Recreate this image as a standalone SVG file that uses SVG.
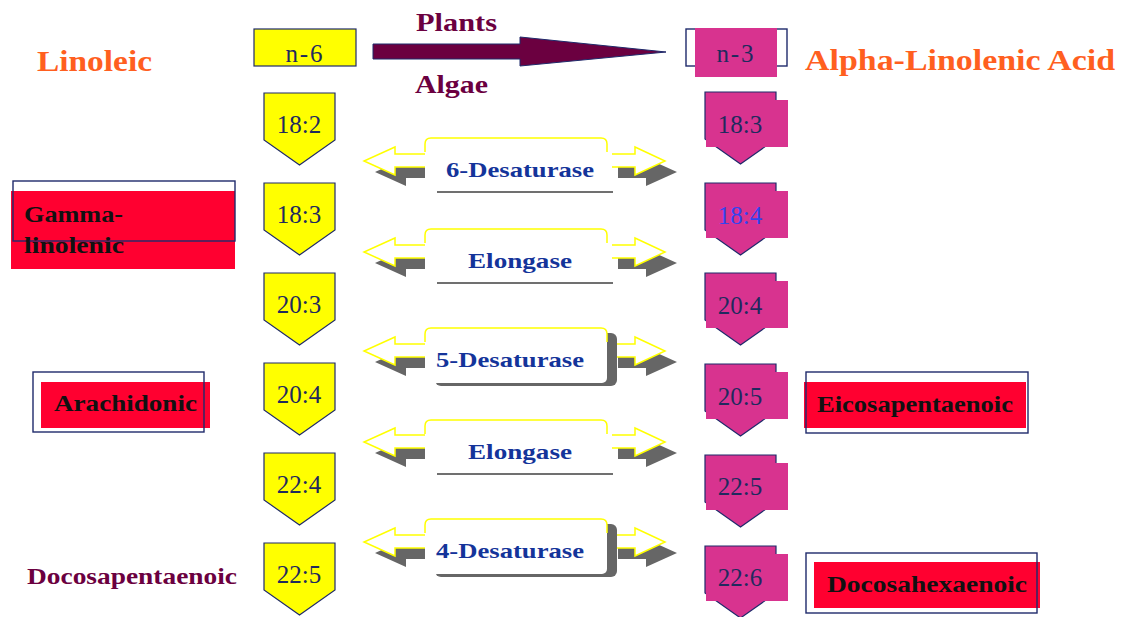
<svg xmlns="http://www.w3.org/2000/svg" width="1126" height="617" viewBox="0 0 1126 617">
  <style>
    text { font-family: "Liberation Serif", "Times New Roman", serif; }
    .title { font-size: 29px; font-weight: bold; fill: #ff5f1f; }
    .maroon { font-weight: bold; fill: #6b0040; }
    .num { font-size: 25px; fill: #1f2a5e; text-anchor: middle; }
    .enz { font-size: 22px; font-weight: bold; fill: #14349a; }
    .acid { font-size: 24px; font-weight: bold; fill: #111; }
    .yel { fill: #ffff00; stroke: #1f2a6b; stroke-width: 1.2; }
    .mag { fill: #d8338f; stroke: #1f2a6b; stroke-width: 1.2; }
    .magfill { fill: #d8338f; }
    .red { fill: #ff0030; }
    .frame { fill: none; stroke: #1f2a6b; stroke-width: 1.4; }
    .shadow { fill: #666666; }
    .hollow { fill: #ffffff; stroke: #ffff00; stroke-width: 1.5; stroke-linejoin: miter; }
    .box { fill: #ffffff; }
    .rim { fill: none; stroke: #ffff00; stroke-width: 1.5; }
    .baseline { stroke: #707070; stroke-width: 2; }
  </style>
  <defs>
    <!-- chain-length chevrons, drawn with top edge at y=0 -->
    <path id="chev" d="M0,0 H71 V47 L35.5,72 L0,47 Z"/>
    <!-- enzyme double arrow, centred on y=0 -->
    <g id="dbl">
      <path class="shadow" d="M436,4 H406 V-3 L375,11 L406,25 V17 H436 Z"/>
      <path class="shadow" d="M618,4 H646 V-3 L677,11 L646,25 V17 H618 Z"/>
      <path class="hollow" d="M425,-7 H395 V-14 L364,0 L395,14 V6 H425"/>
      <path class="hollow" d="M612,-7 H635 V-14 L665,0 L635,14 V6 H612"/>
    </g>
  </defs>

  <!-- headings -->
  <g id="linoleic">
    <text class="title" x="37" y="71" textLength="115" lengthAdjust="spacingAndGlyphs">Linoleic</text>
  </g>
  <g id="alpha-linolenic">
    <text class="title" x="805" y="70" textLength="310" lengthAdjust="spacingAndGlyphs">Alpha-Linolenic Acid</text>
  </g>

  <g id="n6">
    <rect class="yel" x="254" y="29" width="102" height="37"/>
    <text class="num" x="304" y="62" textLength="37">n-6</text>
  </g>
  <g id="n3">
    <rect class="frame" x="686" y="29" width="101" height="37"/>
    <rect class="magfill" x="695" y="28" width="82" height="49"/>
    <text class="num" x="735" y="62" textLength="37">n-3</text>
  </g>

  <!-- plants / algae conversion -->
  <g id="conversion">
    <path d="M373,44 H520 V37 L666,52 L520,66 V59 H373 Z" fill="#6b0040" stroke="#1f2a6b" stroke-width="1"/>
    <text class="maroon" x="416" y="31" font-size="26" textLength="81" lengthAdjust="spacingAndGlyphs">Plants</text>
    <text class="maroon" x="415" y="93" font-size="26" textLength="73" lengthAdjust="spacingAndGlyphs">Algae</text>
  </g>

  <!-- n-6 series -->
  <g id="n6-18-2"><use href="#chev" class="yel" x="264" y="93"/><text class="num" x="299" y="133">18:2</text></g>
  <g id="n6-18-3"><use href="#chev" class="yel" x="264" y="183"/><text class="num" x="299" y="223">18:3</text></g>
  <g id="n6-20-3"><use href="#chev" class="yel" x="264" y="273"/><text class="num" x="299" y="313">20:3</text></g>
  <g id="n6-20-4"><use href="#chev" class="yel" x="264" y="363"/><text class="num" x="299" y="403">20:4</text></g>
  <g id="n6-22-4"><use href="#chev" class="yel" x="264" y="453"/><text class="num" x="299" y="493">22:4</text></g>
  <g id="n6-22-5"><use href="#chev" class="yel" x="264" y="543"/><text class="num" x="299" y="583">22:5</text></g>

  <!-- n-3 series -->
  <g id="n3-18-3"><use href="#chev" class="mag" x="705" y="92"/><rect class="magfill" x="706" y="100" width="82" height="47"/><text class="num" x="740" y="133">18:3</text></g>
  <g id="n3-18-4"><use href="#chev" class="mag" x="705" y="183"/><rect class="magfill" x="706" y="191" width="82" height="47"/><text class="num" x="740" y="224" style="fill:#3344ee">18:4</text></g>
  <g id="n3-20-4"><use href="#chev" class="mag" x="705" y="273"/><rect class="magfill" x="706" y="281" width="82" height="47"/><text class="num" x="740" y="314">20:4</text></g>
  <g id="n3-20-5"><use href="#chev" class="mag" x="705" y="364"/><rect class="magfill" x="706" y="372" width="82" height="47"/><text class="num" x="740" y="405">20:5</text></g>
  <g id="n3-22-5"><use href="#chev" class="mag" x="705" y="455"/><rect class="magfill" x="706" y="463" width="82" height="47"/><text class="num" x="740" y="495">22:5</text></g>
  <g id="n3-22-6"><use href="#chev" class="mag" x="705" y="546"/><rect class="magfill" x="706" y="554" width="82" height="47"/><text class="num" x="740" y="586">22:6</text></g>

  <!-- enzyme steps -->
  <g id="connectors">
    <use href="#dbl" y="161"/>
    <use href="#dbl" y="252"/>
    <use href="#dbl" y="351"/>
    <use href="#dbl" y="442"/>
    <use href="#dbl" y="542"/>
  </g>

  <g id="d6">
    <rect class="box" x="425" y="138" width="182" height="52" rx="5"/>
    <path class="rim" d="M425,152 V144 Q425,138 431,138 H601 Q607,138 607,144 V152"/>
    <line class="baseline" x1="437" y1="192" x2="613" y2="192"/>
    <text class="enz" x="446" y="177" textLength="148" lengthAdjust="spacingAndGlyphs">6-Desaturase</text>
  </g>
  <g id="elo1">
    <rect class="box" x="425" y="229" width="182" height="52" rx="5"/>
    <path class="rim" d="M425,243 V235 Q425,229 431,229 H601 Q607,229 607,235 V243"/>
    <line class="baseline" x1="437" y1="283" x2="613" y2="283"/>
    <text class="enz" x="468" y="268" textLength="104" lengthAdjust="spacingAndGlyphs">Elongase</text>
  </g>
  <g id="d5">
    <rect class="shadow" x="435" y="333" width="182" height="53" rx="6"/>
    <rect class="box" x="425" y="328" width="182" height="55" rx="5"/>
    <path class="rim" d="M425,342 V334 Q425,328 431,328 H601 Q607,328 607,334 V342"/>
    <text class="enz" x="436" y="367" textLength="148" lengthAdjust="spacingAndGlyphs">5-Desaturase</text>
  </g>
  <g id="elo2">
    <rect class="box" x="425" y="420" width="182" height="52" rx="5"/>
    <path class="rim" d="M425,434 V426 Q425,420 431,420 H601 Q607,420 607,426 V434"/>
    <line class="baseline" x1="437" y1="474" x2="613" y2="474"/>
    <text class="enz" x="468" y="459" textLength="104" lengthAdjust="spacingAndGlyphs">Elongase</text>
  </g>
  <g id="d4">
    <rect class="shadow" x="435" y="524" width="182" height="53" rx="6"/>
    <rect class="box" x="425" y="519" width="182" height="55" rx="5"/>
    <path class="rim" d="M425,533 V525 Q425,519 431,519 H601 Q607,519 607,525 V533"/>
    <text class="enz" x="436" y="558" textLength="148" lengthAdjust="spacingAndGlyphs">4-Desaturase</text>
  </g>

  <!-- named fatty acids -->
  <g id="gamma-linolenic">
    <rect class="red" x="11" y="191" width="224" height="78"/>
    <rect class="frame" x="13" y="181" width="222" height="60"/>
    <text class="acid" x="24" y="222" textLength="99" lengthAdjust="spacingAndGlyphs">Gamma-</text>
    <text class="acid" x="24" y="253" textLength="100" lengthAdjust="spacingAndGlyphs">linolenic</text>
  </g>
  <g id="arachidonic">
    <rect class="red" x="41" y="382" width="169" height="46"/>
    <rect class="frame" x="33" y="372" width="171" height="60"/>
    <text class="acid" x="54" y="411" textLength="143" lengthAdjust="spacingAndGlyphs">Arachidonic</text>
  </g>
  <g id="eicosapentaenoic">
    <rect class="red" x="804" y="382" width="222" height="46"/>
    <rect class="frame" x="806" y="372" width="222" height="61"/>
    <text class="acid" x="817" y="412" textLength="196" lengthAdjust="spacingAndGlyphs">Eicosapentaenoic</text>
  </g>
  <g id="docosahexaenoic">
    <rect class="red" x="814" y="562" width="226" height="46"/>
    <rect class="frame" x="806" y="553" width="231" height="60"/>
    <text class="acid" x="827" y="592" textLength="200" lengthAdjust="spacingAndGlyphs">Docosahexaenoic</text>
  </g>
  <g id="docosapentaenoic">
    <text class="maroon" x="27" y="584" font-size="23" textLength="210" lengthAdjust="spacingAndGlyphs">Docosapentaenoic</text>
  </g>
</svg>
